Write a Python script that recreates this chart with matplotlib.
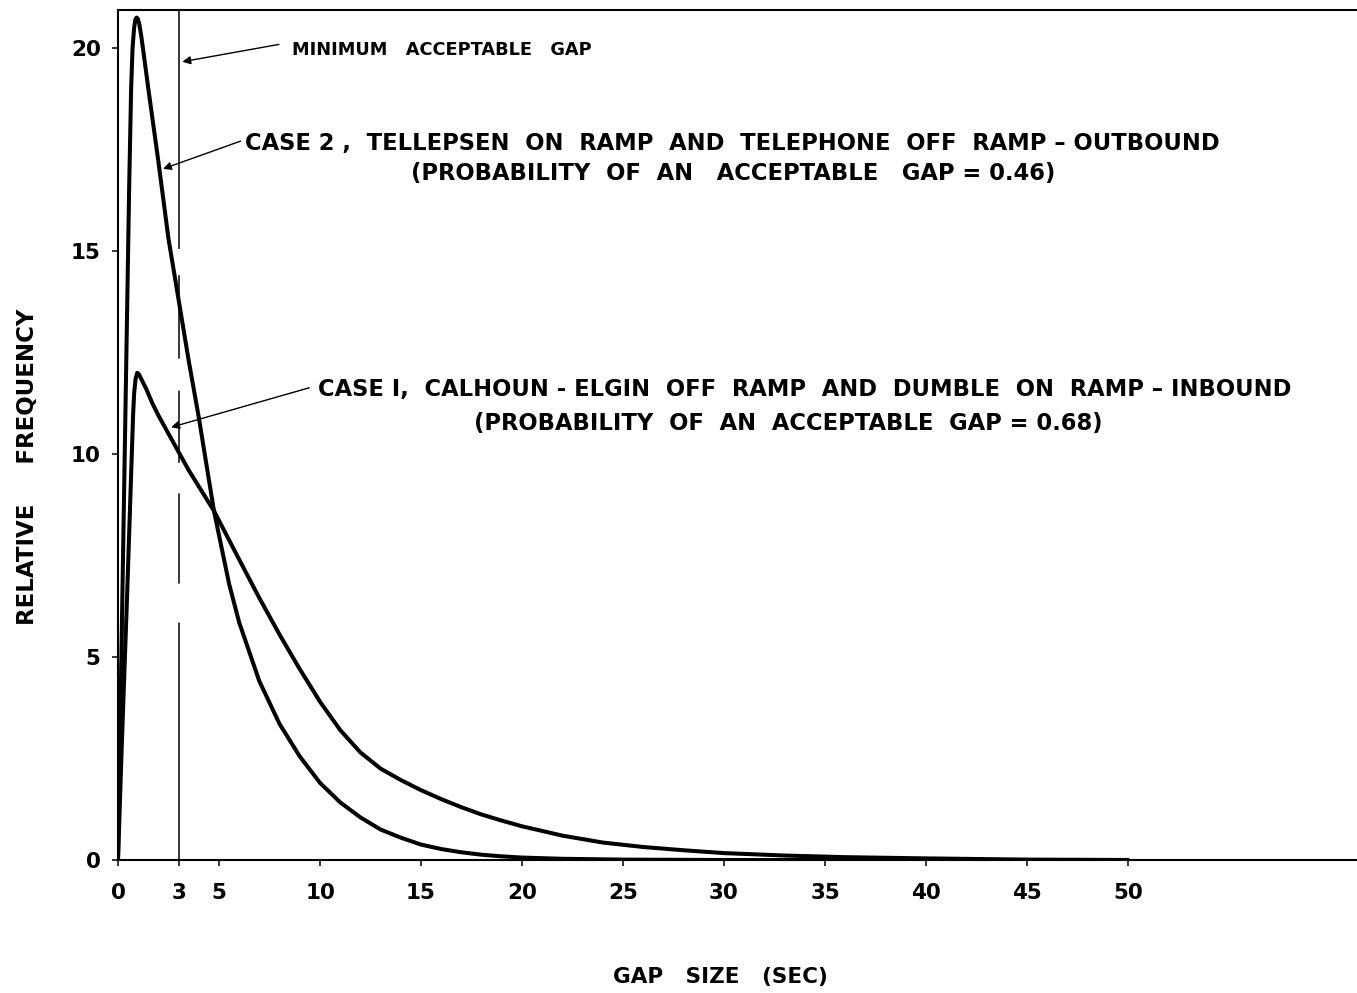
import matplotlib
matplotlib.use("Agg")
import matplotlib.pyplot as plt

plt.rcParams['font.family'] = ['DejaVu Sans']
plt.rcParams['lines.scale_dashes'] = False

# ---- data ----
case2_x = [0, 0.1, 0.3, 0.45, 0.55, 0.65, 0.72, 0.8, 0.86, 0.92, 0.98, 1.05, 1.15, 1.3, 1.5,
           2.0, 2.5, 3.0, 3.5, 4.0, 4.75, 5.5, 6, 7, 8, 9, 10, 11, 12, 13, 14, 15, 16, 17,
           18, 19, 20, 22, 25, 30, 40, 50]
case2_y = [0, 3.0, 9.0, 13.5, 16.5, 19.0, 20.0, 20.5, 20.7, 20.75, 20.72, 20.6, 20.3, 19.75, 19.0,
           17.2, 15.3, 13.8, 12.3, 10.9, 8.6, 6.8, 5.85, 4.4, 3.35, 2.55, 1.9, 1.42, 1.05, 0.75,
           0.55, 0.38, 0.27, 0.19, 0.13, 0.09, 0.06, 0.03, 0.01, 0, 0, 0]

case1_x = [0, 0.2, 0.45, 0.65, 0.75, 0.8, 0.87, 0.95, 1.03, 1.15, 1.4, 1.7, 2.0, 2.5, 3.0, 3.5,
           4.0, 4.75, 6, 7, 8, 9, 10, 11, 12, 13, 14, 15, 16, 17, 18, 19, 20, 22, 24, 26, 28,
           30, 33, 36, 40, 45, 50]
case1_y = [0, 3.0, 6.5, 9.5, 11.0, 11.5, 11.85, 12.0, 11.97, 11.85, 11.6, 11.25, 10.95, 10.5,
           10.05, 9.6, 9.2, 8.6, 7.4, 6.45, 5.55, 4.7, 3.9, 3.2, 2.65, 2.25, 1.97, 1.72, 1.5,
           1.3, 1.12, 0.97, 0.83, 0.6, 0.43, 0.32, 0.24, 0.17, 0.11, 0.07, 0.04, 0.01, 0]

min_gap = 3
xticks = [0, 3, 5, 10, 15, 20, 25, 30, 35, 40, 45, 50]
xtick_labels = ['0', '3', '5', '10', '15', '20', '25', '30', '35', '40', '45', '50']
yticks = [0, 5, 10, 15, 20]
ytick_labels = ['0', '5', '10', '15', '20']

label_min = "MINIMUM   ACCEPTABLE   GAP"
label_c2a = "CASE 2 ,  TELLEPSEN  ON  RAMP  AND  TELEPHONE  OFF  RAMP \u2013 OUTBOUND"
label_c2b = "(PROBABILITY  OF  AN   ACCEPTABLE   GAP = 0.46)"
label_c1a = "CASE I,  CALHOUN - ELGIN  OFF  RAMP  AND  DUMBLE  ON  RAMP \u2013 INBOUND"
label_c1b = "(PROBABILITY  OF  AN  ACCEPTABLE  GAP = 0.68)"

# ---- figure ----
W, H = 1357, 993
fig = plt.figure(figsize=(W / 100, H / 100), dpi=100)
ax = fig.add_axes([118 / W, (H - 860) / H, (W - 118) / W, 850 / H])

ax.plot(case2_x, case2_y, color='black', lw=2.9, solid_joinstyle='round', solid_capstyle='round')
ax.plot(case1_x, case1_y, color='black', lw=2.9, solid_joinstyle='round', solid_capstyle='round')

ax.axvline(min_gap, color='black', lw=1.1,
           dashes=(171, 28, 65, 22, 52, 23, 60, 19, 175, 0))

ax.set_xlim(0, (W - 118) / 20.2)
ax.set_ylim(0, 850 / 40.6)

ax.spines['right'].set_visible(False)
for s in ['left', 'top', 'bottom']:
    ax.spines[s].set_linewidth(1.5)

ax.set_xticks(xticks)
ax.set_xticklabels(xtick_labels, fontweight='bold')
ax.set_yticks(yticks)
ax.set_yticklabels(ytick_labels, fontweight='bold')
ax.tick_params(axis='both', direction='out', length=4.5, width=1.1, labelsize=15.5)
ax.tick_params(axis='x', pad=12)
ax.tick_params(axis='y', pad=8)

ax.set_xlabel("GAP   SIZE   (SEC)", fontsize=15.5, fontweight='bold')
ax.xaxis.set_label_coords((720 - 118) / (W - 118), -(967 - 860) / 850)
ax.set_ylabel("RELATIVE     FREQUENCY", fontsize=16.5, fontweight='bold')
ax.yaxis.set_label_coords(-(118 - 39) / (W - 118), (860 - 467) / 850)

# annotations
ax.text(8.61, 19.95, label_min, fontsize=12.8, fontweight='bold', va='center', ha='left')
ax.annotate("", xy=(3.05, 19.65), xytext=(8.1, 20.1),
            arrowprops=dict(arrowstyle='-|>', lw=1.0, color='black', mutation_scale=12))

ax.text(6.29, 17.66, label_c2a, fontsize=16.3, fontweight='bold', va='center', ha='left')
ax.text(30.45, 16.92, label_c2b, fontsize=16.3, fontweight='bold', va='center', ha='center')
ax.annotate("", xy=(2.1, 17.0), xytext=(6.2, 17.73),
            arrowprops=dict(arrowstyle='-|>', lw=1.0, color='black', mutation_scale=12))

ax.text(9.9, 11.6, label_c1a, fontsize=16.3, fontweight='bold', va='center', ha='left')
ax.text(33.2, 10.74, label_c1b, fontsize=16.3, fontweight='bold', va='center', ha='center')
ax.annotate("", xy=(2.5, 10.64), xytext=(9.6, 11.65),
            arrowprops=dict(arrowstyle='-|>', lw=1.0, color='black', mutation_scale=12))

fig.savefig("out.png", dpi=100)
